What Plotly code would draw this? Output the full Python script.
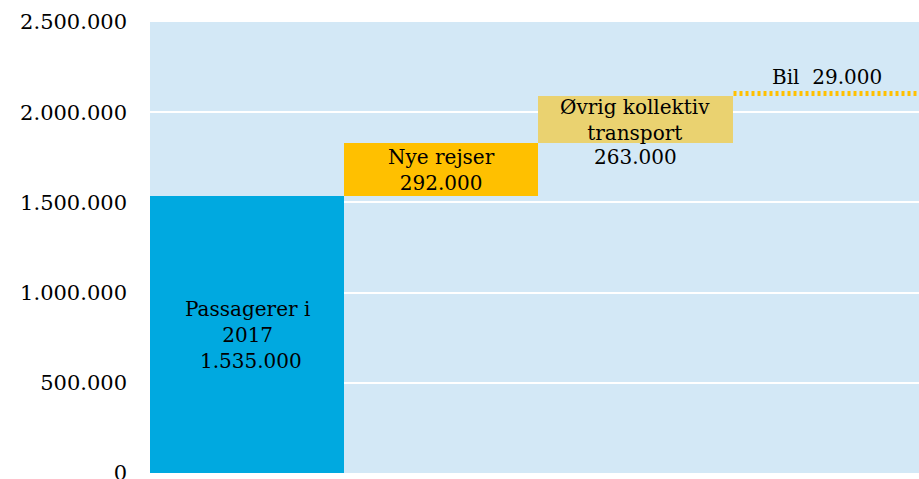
import plotly.graph_objects as go

categories = ["Passagerer i 2017", "Nye rejser", "Øvrig kollektiv transport", "Bil"]
values = [1535000, 292000, 263000, 29000]
bar_colors = ["#00A9E0", "#FFC000", "#EAD270", "#FFC000"]
bar_patterns = ["", "", "", "|"]
tick_vals = [0, 500000, 1000000, 1500000, 2000000, 2500000]
tick_text = ["0", "500.000", "1.000.000", "1.500.000", "2.000.000", "2.500.000"]

bases = [0]
for v in values[:-1]:
    bases.append(bases[-1] + v)

FONT = "DejaVu Serif"

fig = go.Figure()
fig.add_trace(go.Bar(
    x=categories, y=values, base=bases,
    marker=dict(color=bar_colors, line=dict(width=0), pattern=dict(
        shape=bar_patterns, fgcolor="#FFC000", bgcolor="#FFFFFF",
        size=6, solidity=0.5, fillmode="replace")),
    hoverinfo="skip", showlegend=False,
))

ann_font = dict(family=FONT, size=20, color="#000000")
annotations = [
    dict(x=categories[0], y=bases[0] + values[0] / 2,
         text="Passagerer i<br>2017<br>\u00a0" + "1.535.000", yanchor="middle"),
    dict(x=categories[1], y=bases[1] + values[1] / 2,
         text="Nye rejser<br>292.000", yanchor="middle"),
    dict(x=categories[2], y=bases[2] + values[2] / 2,
         text="Øvrig kollektiv<br>transport", yanchor="middle"),
    dict(x=categories[2], y=bases[2],
         text="263.000", yanchor="top"),
    dict(x=categories[3], y=bases[3] + values[3],
         text="Bil\u00a0 29.000", yanchor="bottom", xshift=-3),
]
for a in annotations:
    fig.add_annotation(**a, xref="x", yref="y", showarrow=False, font=ann_font, align="center")

fig.update_layout(
    width=919, height=487,
    margin=dict(l=150, r=0, t=22, b=14),
    paper_bgcolor="white", plot_bgcolor="#D3E8F6",
    bargap=0,
    xaxis=dict(showticklabels=False, showgrid=False, zeroline=False,
               range=[-0.5, 3.46], fixedrange=True),
    yaxis=dict(range=[0, 2500000], tickvals=tick_vals, ticktext=tick_text,
               showgrid=True, gridcolor="white", gridwidth=2, zeroline=False,
               tickfont=dict(family=FONT, size=21, color="#000000"),
               ticklabelstandoff=22, automargin=False, fixedrange=True),
)

post = ("document.body.style.margin='0px';document.body.style.overflow='hidden';"
        "Plotly.relayout('{plot_id}', {width: 919, height: 487});")
fig.write_html("out.html", post_script=post,
               config={"responsive": False, "displayModeBar": False, "staticPlot": True})
